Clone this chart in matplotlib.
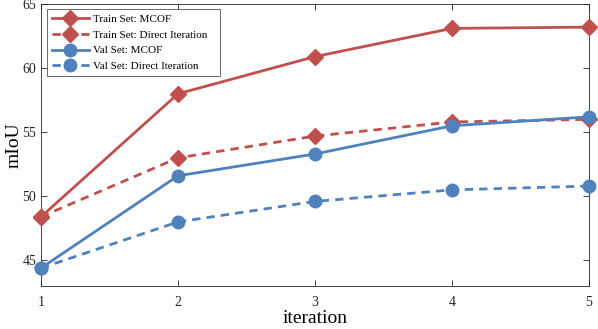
import matplotlib
matplotlib.use("Agg")
import matplotlib.pyplot as plt

iterations = [1, 2, 3, 4, 5]
train_mcof = [48.4, 58.0, 60.9, 63.1, 63.2]
train_direct = [48.4, 53.0, 54.7, 55.8, 56.0]
val_mcof = [44.4, 51.6, 53.3, 55.5, 56.2]
val_direct = [44.4, 48.0, 49.6, 50.5, 50.8]
labels = ["Train Set: MCOF", "Train Set: Direct Iteration",
          "Val Set: MCOF", "Val Set: Direct Iteration"]

plt.rcParams['font.family'] = ['Liberation Serif', 'DejaVu Serif']
red = '#C0504D'
blue = '#4F81BD'

fig = plt.figure(figsize=(5.98, 3.29), dpi=100)
ax = fig.add_axes([0.0686, 0.1307, 0.9164, 0.857])

lw = 2.0
ax.plot(iterations, train_mcof, '-', color=red, lw=lw, marker='D', ms=8.5, label=labels[0], clip_on=False, zorder=3)
ax.plot(iterations, train_direct, '--', color=red, lw=lw, marker='D', ms=8.5, label=labels[1], dashes=(3, 2.2), clip_on=False, zorder=3)
ax.plot(iterations, val_mcof, '-', color=blue, lw=lw, marker='o', ms=9, label=labels[2], clip_on=False, zorder=3)
ax.plot(iterations, val_direct, '--', color=blue, lw=lw, marker='o', ms=9, label=labels[3], dashes=(3, 2.2), clip_on=False, zorder=3)

ax.set_xlim(1, 5)
ax.set_ylim(43, 65)
ax.set_xticks(iterations)
ax.set_yticks([45, 50, 55, 60, 65])
ax.tick_params(direction='in', top=True, right=True, labelsize=10, colors='#262626', length=4, width=0.6)
ax.tick_params(axis='x', pad=7)
for s in ax.spines.values():
    s.set_color('#262626')
    s.set_linewidth(0.6)
ax.set_xlabel('iteration', fontsize=14, labelpad=1)
ax.set_ylabel('mIoU', fontsize=14, labelpad=0)

leg = ax.legend(loc='upper left', bbox_to_anchor=(0.011, 0.983, 0.316, 0.0), mode='expand',
                fontsize=8, handlelength=3.3, frameon=True, fancybox=False,
                edgecolor='#262626', borderpad=0.45, labelspacing=0.55, handletextpad=0.35,
                borderaxespad=0.0)
leg.get_frame().set_linewidth(0.6)
leg.set_zorder(5)

fig.savefig('out.png', dpi=100)
